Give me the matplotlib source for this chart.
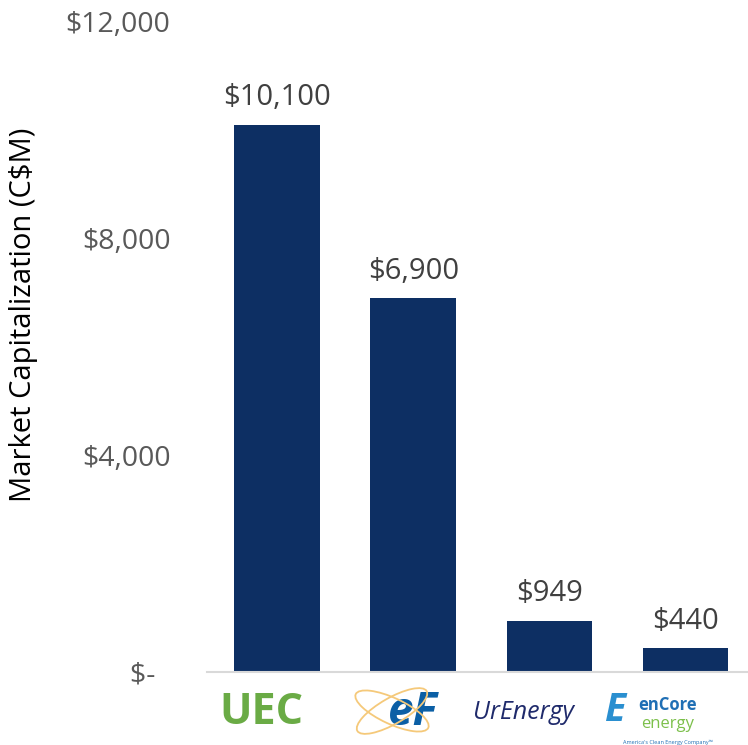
import matplotlib.pyplot as plt
from matplotlib.patches import Ellipse

companies = ['UEC', 'EF', 'Ur-Energy', 'enCore']
market_cap = [10100, 6900, 949, 440]
bar_labels = ['$10,100', '$6,900', '$949', '$440']
yticks = [0, 4000, 8000, 12000]
ytick_labels = ['$-  ', '$4,000', '$8,000', '$12,000']

plt.rcParams['font.family'] = ['Open Sans', 'DejaVu Sans']

fig = plt.figure(figsize=(7.48, 7.45), dpi=100)
ax = fig.add_axes([0.277, 0.098, 0.723, 0.8725])

x = range(len(companies))
ax.bar(x, market_cap, width=0.63, color='#0d2f63')
for xi, v, lab in zip(x, market_cap, bar_labels):
    ax.text(xi, v + 230, lab, ha='center', va='bottom', fontsize=21, color='#404040')

ax.set_xlim(-0.515, 3.46)
ax.set_ylim(0, 12000)
ax.set_yticks(yticks)
ax.set_yticklabels(ytick_labels, fontsize=20.5, color='#595959')
ax.set_xticks([])
ax.tick_params(axis='y', length=0, pad=26.5)
for s in ['top', 'right', 'left']:
    ax.spines[s].set_visible(False)
ax.spines['bottom'].set_color('#d9d9d9')
ax.spines['bottom'].set_linewidth(1.5)
ax.set_ylabel('Market Capitalization (C$M)', fontsize=21, color='black')
ax.yaxis.set_label_coords(-0.312, 0.549)

# logo stand-ins under each bar
ly = -757
ax.text(-0.12, ly, 'UEC', ha='center', va='center', fontsize=31, fontweight='bold',
        color='#6aab45', clip_on=False)
# orbit rings drawn in figure coords so they stay round
for ang in (30, -25):
    fig.patches.append(Ellipse((392 / 748, 1 - 711 / 745), 80 / 748, 26 / 745, angle=ang,
                               fill=False, edgecolor='#f5c97a', linewidth=1.3,
                               transform=fig.transFigure))
ax.text(1.0, ly, 'eF', ha='center', va='center', fontsize=33, fontweight='bold',
        fontstyle='italic', color='#0b5fa5', clip_on=False)
ax.text(1.81, ly, 'UrEnergy', ha='center', va='center', fontsize=18, fontstyle='italic',
        color='#1f2a6b', clip_on=False)
ax.text(2.49, ly + 40, 'E', ha='center', va='center', fontsize=28, fontweight='bold',
        fontstyle='italic', color='#2a8fd0', clip_on=False)
ax.text(2.87, -610, 'enCore', ha='center', va='center', fontsize=12, fontweight='bold',
        color='#1f6fb5', clip_on=False)
ax.text(2.87, -960, 'energy', ha='center', va='center', fontsize=12,
        color='#7cc04b', clip_on=False)
ax.text(2.87, -1300, "America's Clean Energy Company\u2122", ha='center', va='center',
        fontsize=4, color='#1f6fb5', clip_on=False)

fig.savefig('out.png', dpi=100)
